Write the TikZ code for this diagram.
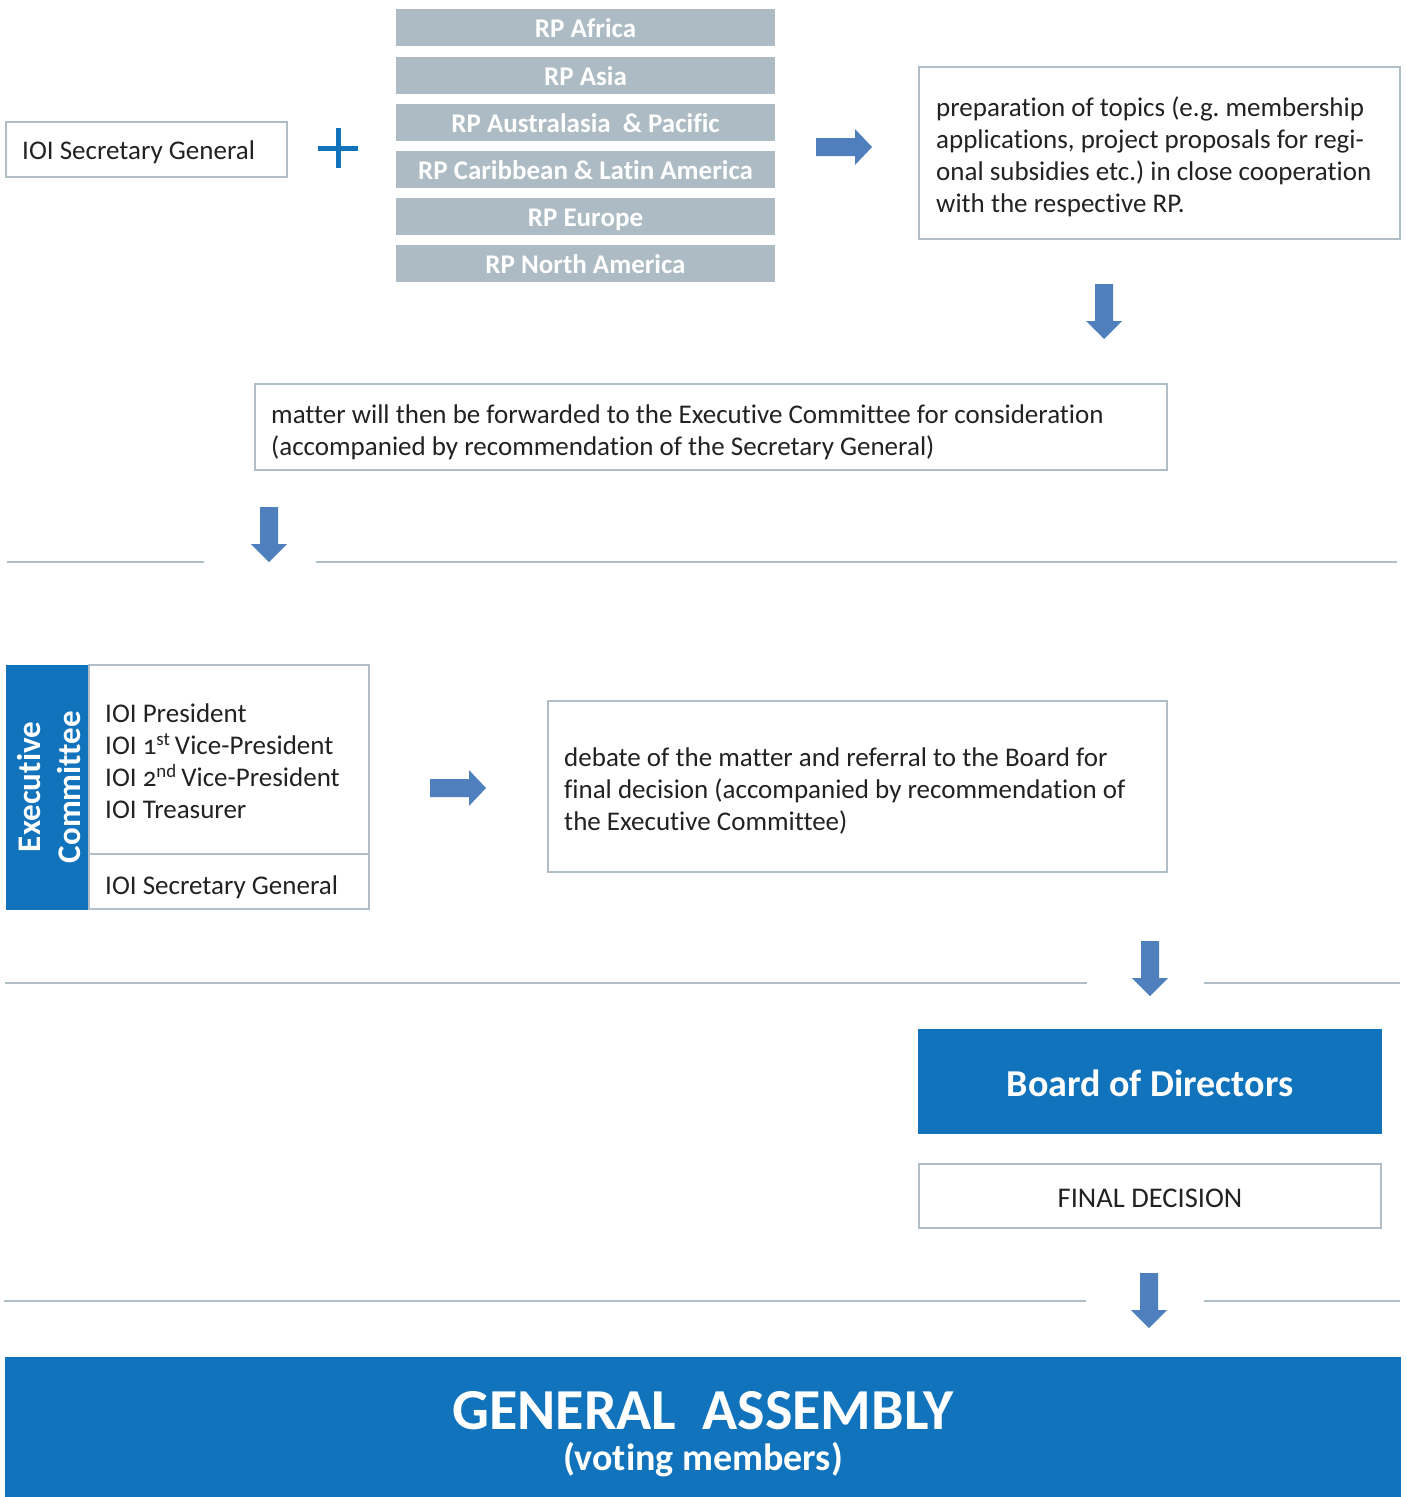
\documentclass[tikz,border=0pt]{standalone}
\usepackage{fontspec}
\setmainfont{Carlito}[Numbers=OldStyle, Ligatures=NoCommon]
\definecolor{rpfill}{HTML}{ADBBC4}
\definecolor{boxline}{HTML}{B0BEC8}
\definecolor{blueA}{HTML}{1173BB}
\definecolor{arrowc}{HTML}{4F80BD}
\definecolor{txt}{HTML}{222222}
\newcommand\myGAfont{\bfseries\fontsize{38}{41}\selectfont\lineskiplimit=-100pt\relax}
\begin{document}
\frenchspacing
\begin{tikzpicture}[x=1pt,y=-1pt,
  rpbox/.style={fill=rpfill, minimum width=379pt, minimum height=37pt, inner sep=0pt, anchor=north},
  rptext/.style={anchor=base, inner sep=0pt, text=white, font=\fontsize{27}{30}\selectfont\bfseries},
  wbox/.style={draw=boxline, line width=2pt, fill=white, inner sep=0pt},
  btext/.style={anchor=west, inner sep=0pt, text=txt, font=\fontsize{27}{32}\selectfont, align=left},
  bluebox/.style={fill=blueA, inner sep=0pt},
  sepline/.style={draw=boxline, line width=2pt},
  darr/.pic={\fill[arrowc] (-9,0) -- (9,0) -- (9,37) -- (18,37) -- (0,55) -- (-18,37) -- (-9,37) -- cycle;},
  rarr/.pic={\fill[arrowc] (0,-9) -- (39,-9) -- (39,-18) -- (56,0) -- (39,18) -- (39,9) -- (0,9) -- cycle;}
]
\fill[white] (0,0) rectangle (1407,1497);
\useasboundingbox (0,0) rectangle (1407,1497);

% top row
\node[wbox, minimum width=281pt, minimum height=55pt] (secg) at (146.5,149.5) {};
\node[btext] (secgt) at (22,152.5) {IOI Secretary General};
\draw[blueA, line width=5pt] (318,148) -- (358,148) (338,128) -- (338,168);

\node[rpbox] (rp1) at (585.5,9) {};
\node[rptext] (rp1t) at (585.5,37.7) {RP Africa};
\node[rpbox] (rp2) at (585.5,57) {};
\node[rptext] (rp2t) at (585.5,85.7) {RP Asia};
\node[rpbox] (rp3) at (585.5,104) {};
\node[rptext] (rp3t) at (585.5,132.7) {RP Australasia \ \& Pacific};
\node[rpbox] (rp4) at (585.5,151) {};
\node[rptext] (rp4t) at (585.5,179.7) {RP Caribbean \& Latin America};
\node[rpbox] (rp5) at (585.5,198) {};
\node[rptext] (rp5t) at (585.5,226.7) {RP Europe};
\node[rpbox] (rp6) at (585.5,245) {};
\node[rptext] (rp6t) at (585.5,273.7) {RP North America};

\pic at (816,147) {rarr};

\node[wbox, minimum width=481pt, minimum height=172pt] (prep) at (1159.5,153) {};
\node[btext] (prept) at (936,157) {preparation of topics (e.g. membership\\applications, project proposals for regi-\\onal subsidies etc.) in close cooperation\\with the respective RP.};

\pic at (1104,284) {darr};

\node[wbox, minimum width=912pt, minimum height=86pt] (matter) at (711,427) {};
\node[btext] (mattert) at (271,432) {matter will then be forwarded to the Executive Committee for consideration\\(accompanied by recommendation of the Secretary General)};

\pic at (269,507) {darr};
\draw[sepline] (7,562) -- (204,562) (316,562) -- (1397,562);

% executive committee
\node[bluebox, minimum width=83pt, minimum height=245pt] (exec) at (47,787.5) {};
\node[text=white, rotate=90, align=center, font=\fontsize{33}{40}\selectfont\bfseries] (execlbl) at (49,787) {Executive\\Committee};
\node[wbox, minimum width=280pt, minimum height=189pt] (members) at (229,759.5) {};
\node[btext] (memberst) at (105,761) {IOI President\\IOI 1\textsuperscript{st}\,Vice-President\\IOI 2\textsuperscript{nd}\,Vice-President\\IOI Treasurer};
\node[wbox, minimum width=280pt, minimum height=55pt] (secg2) at (229,881.5) {};
\node[btext] (secg2t) at (105,887) {IOI Secretary General};

\pic at (430,788) {rarr};

\node[wbox, minimum width=619pt, minimum height=171pt] (debate) at (857.5,786.5) {};
\node[btext] (debatet) at (564,791) {debate of the matter and referral to the Board for\\final decision (accompanied by recommendation of\\the Executive Committee)};

\pic at (1150,941) {darr};
\draw[sepline] (5,983) -- (1087,983) (1204,983) -- (1400,983);

\node[bluebox, minimum width=464pt, minimum height=105pt] (board) at (1150,1081.5) {};
\node[text=white, inner sep=0pt, font=\fontsize{38}{40}\selectfont\bfseries] (boardt) at (1150,1083) {Board of Directors};
\node[wbox, minimum width=462pt, minimum height=64pt] (final) at (1150,1196) {};
\node[text=txt, inner sep=0pt, font=\fontsize{28.5}{30}\selectfont] (finalt) at (1150,1198) {FINAL DECISION};

\pic at (1149,1273) {darr};
\draw[sepline] (4,1301) -- (1086,1301) (1204,1301) -- (1400,1301);

\node[bluebox, minimum width=1396pt, minimum height=141pt] (ga) at (703,1427.5) {};
\node[text=white, anchor=north, inner sep=0pt, align=center, font=\myGAfont] (gat) at (703,1391) {{\fontsize{58}{41}\selectfont GENERAL \ ASSEMBLY}\\(voting members)};
\end{tikzpicture}
\end{document}
